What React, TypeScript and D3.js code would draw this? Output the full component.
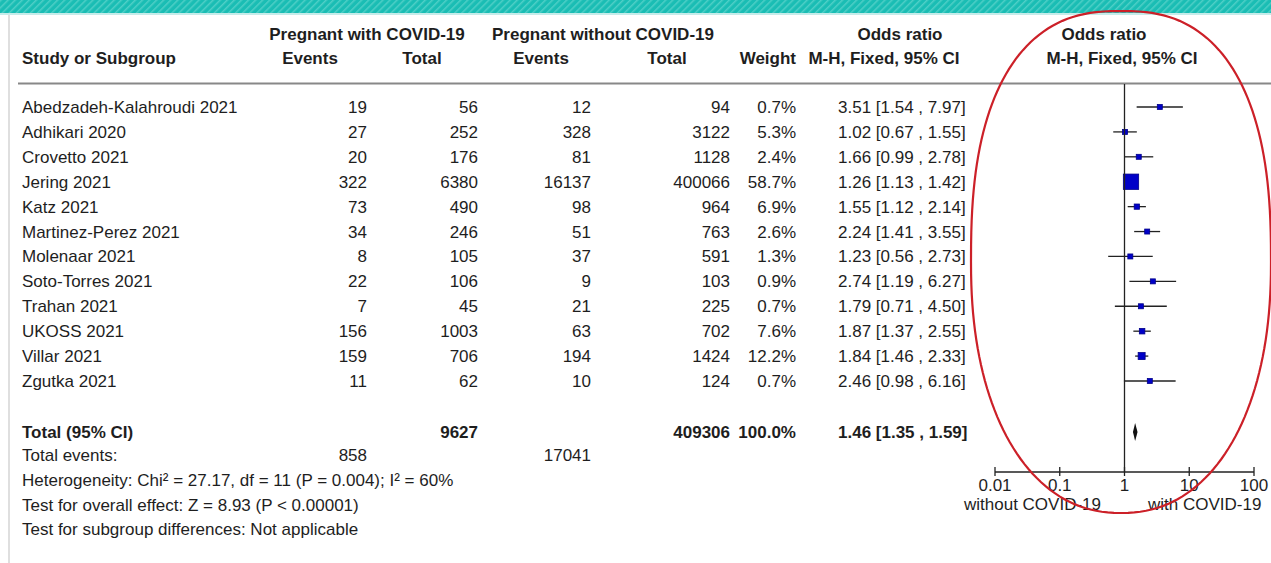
import React from "react";
import * as d3 from "d3";

const studies = [
  "Abedzadeh-Kalahroudi 2021",
  "Adhikari 2020",
  "Crovetto 2021",
  "Jering 2021",
  "Katz 2021",
  "Martinez-Perez 2021",
  "Molenaar 2021",
  "Soto-Torres 2021",
  "Trahan 2021",
  "UKOSS 2021",
  "Villar 2021",
  "Zgutka 2021",
];
const eventsWith = [19, 27, 20, 322, 73, 34, 8, 22, 7, 156, 159, 11];
const totalWith = [56, 252, 176, 6380, 490, 246, 105, 106, 45, 1003, 706, 62];
const eventsWithout = [12, 328, 81, 16137, 98, 51, 37, 9, 21, 63, 194, 10];
const totalWithout = [94, 3122, 1128, 400066, 964, 763, 591, 103, 225, 702, 1424, 124];
const weights = [0.7, 5.3, 2.4, 58.7, 6.9, 2.6, 1.3, 0.9, 0.7, 7.6, 12.2, 0.7];
const oddsRatio = [3.51, 1.02, 1.66, 1.26, 1.55, 2.24, 1.23, 2.74, 1.79, 1.87, 1.84, 2.46];
const ciLower = [1.54, 0.67, 0.99, 1.13, 1.12, 1.41, 0.56, 1.19, 0.71, 1.37, 1.46, 0.98];
const ciUpper = [7.97, 1.55, 2.78, 1.42, 2.14, 3.55, 2.73, 6.27, 4.5, 2.55, 2.33, 6.16];

const totalSummary = { totalWith: 9627, totalWithout: 409306, weight: "100.0%", or: 1.46, lo: 1.35, hi: 1.59 };
const totalEvents = [858, 17041];
const axisTicks = [0.01, 0.1, 1, 10, 100];
const axisTickLabels = ["0.01", "0.1", "1", "10", "100"];
const footLines = [
  "Heterogeneity: Chi² = 27.17, df = 11 (P = 0.004); I² = 60%",
  "Test for overall effect: Z = 8.93 (P < 0.00001)",
  "Test for subgroup differences: Not applicable",
];

const W = 1271;
const H = 563;
const FONT = "'Liberation Sans', Arial, Helvetica, sans-serif";
const FS = 17;
const TXT = "#1e1e1e";

export default function App() {
  const x = d3.scaleLog().domain([0.01, 100]).range([995, 1254]);
  const y = d3.scaleLinear().domain([0, 11]).range([107, 381]);
  const f2 = d3.format(".2f");
  const orText = (o: number, l: number, h: number) => `${f2(o)} [${f2(l)} , ${f2(h)}]`;

  const colEv1 = 367;
  const colTot1 = 478;
  const colEv2 = 591;
  const colTot2 = 730;
  const colW = 796;
  const colOR = 838;

  const totalY = 432;
  const axisY = 472;

  // hand-drawn-like ellipse
  const cx = 1121, cy = 262, rx = 150, ry = 251;
  const pts: [number, number][] = d3.range(0, 361, 2).map((deg) => {
    const t = (deg * Math.PI) / 180;
    const c = Math.cos(t), s = Math.sin(t);
    const n = s < 0 ? 2.5 : 2.2;
    const px = rx * Math.sign(c) * Math.pow(Math.abs(c), 2 / n);
    const py = ry * Math.sign(s) * Math.pow(Math.abs(s), 2 / n);
    return [cx + px, cy + py];
  });
  const ellipsePath = d3.line().curve(d3.curveLinearClosed)(pts) || "";

  const diamond = `M${x(totalSummary.lo)},${totalY} L${x(totalSummary.or)},${totalY - 9} L${x(totalSummary.hi)},${totalY} L${x(totalSummary.or)},${totalY + 9} Z`;

  const t = (props: any, content: any, key?: any) => (
    <text key={key} fontFamily={FONT} fontSize={FS} fill={TXT} {...props}>
      {content}
    </text>
  );

  return (
    <svg width={W} height={H} style={{ position: "absolute", left: 0, top: 0, background: "#fff" }}>
      <defs>
        <pattern id="stripes" width="5" height="5" patternUnits="userSpaceOnUse" patternTransform="rotate(45)">
          <rect width="5" height="5" fill="#1abdb4" />
          <rect width="1.5" height="5" fill="#4fcfc7" />
        </pattern>
      </defs>
      <rect x={0} y={0} width={W} height={H} fill="#fff" />
      <rect x={0} y={0} width={W} height={13} fill="url(#stripes)" />
      <rect x={0} y={13} width={W} height={2} fill="#c6ecea" />
      <line x1={9} x2={9} y1={15} y2={H} stroke="#d4d4d4" strokeWidth={1.5} />

      {/* headers */}
      <g fontWeight="bold">
        {t({ x: 22, y: 64, fontWeight: "bold" }, "Study or Subgroup")}
        {t({ x: 367, y: 40, textAnchor: "middle", fontWeight: "bold" }, "Pregnant with COVID-19")}
        {t({ x: 603, y: 40, textAnchor: "middle", fontWeight: "bold" }, "Pregnant without COVID-19")}
        {t({ x: 310, y: 64, textAnchor: "middle", fontWeight: "bold" }, "Events")}
        {t({ x: 422, y: 64, textAnchor: "middle", fontWeight: "bold" }, "Total")}
        {t({ x: 541, y: 64, textAnchor: "middle", fontWeight: "bold" }, "Events")}
        {t({ x: 667, y: 64, textAnchor: "middle", fontWeight: "bold" }, "Total")}
        {t({ x: colW, y: 64, textAnchor: "end", fontWeight: "bold" }, "Weight")}
        {t({ x: 900, y: 40, textAnchor: "middle", fontWeight: "bold" }, "Odds ratio")}
        {t({ x: 884, y: 64, textAnchor: "middle", fontWeight: "bold" }, "M-H, Fixed, 95% CI")}
        {t({ x: 1104, y: 40, textAnchor: "middle", fontWeight: "bold" }, "Odds ratio")}
        {t({ x: 1122, y: 64, textAnchor: "middle", fontWeight: "bold" }, "M-H, Fixed, 95% CI")}
      </g>
      <line x1={18} x2={W} y1={83.5} y2={83.5} stroke="#888" strokeWidth={2} />

      {/* rows */}
      {studies.map((s, i) => {
        const yy = y(i);
        const by = yy + 6;
        const side = Math.max(5, 2 * Math.sqrt(weights[i]));
        return (
          <g key={s}>
            {t({ x: 22, y: by }, s)}
            {t({ x: colEv1, y: by, textAnchor: "end" }, eventsWith[i])}
            {t({ x: colTot1, y: by, textAnchor: "end" }, totalWith[i])}
            {t({ x: colEv2, y: by, textAnchor: "end" }, eventsWithout[i])}
            {t({ x: colTot2, y: by, textAnchor: "end" }, totalWithout[i])}
            {t({ x: colW, y: by, textAnchor: "end" }, `${weights[i].toFixed(1)}%`)}
            {t({ x: colOR, y: by }, orText(oddsRatio[i], ciLower[i], ciUpper[i]))}
            <line x1={x(ciLower[i])} x2={x(ciUpper[i])} y1={yy} y2={yy} stroke="#222" strokeWidth={1.3} />
            <rect
              x={x(oddsRatio[i]) - side / 2}
              y={yy - side / 2}
              width={side}
              height={side}
              fill="#0000c8"
              stroke="#00008a"
              strokeWidth={0.8}
            />
          </g>
        );
      })}

      {/* totals */}
      {t({ x: 22, y: totalY + 6, fontWeight: "bold" }, "Total (95% CI)")}
      {t({ x: colTot1, y: totalY + 6, textAnchor: "end", fontWeight: "bold" }, totalSummary.totalWith)}
      {t({ x: colTot2, y: totalY + 6, textAnchor: "end", fontWeight: "bold" }, totalSummary.totalWithout)}
      {t({ x: colW, y: totalY + 6, textAnchor: "end", fontWeight: "bold" }, totalSummary.weight)}
      {t({ x: colOR, y: totalY + 6, fontWeight: "bold" }, orText(totalSummary.or, totalSummary.lo, totalSummary.hi))}
      <path d={diamond} fill="#111" />

      {t({ x: 22, y: 461 }, "Total events:")}
      {t({ x: colEv1, y: 461, textAnchor: "end" }, totalEvents[0])}
      {t({ x: colEv2, y: 461, textAnchor: "end" }, totalEvents[1])}
      {footLines.map((l, i) => t({ x: 22, y: 486 + i * 24.5 }, l, l))}

      {/* forest axis */}
      <line x1={x(1)} x2={x(1)} y1={84} y2={axisY} stroke="#222" strokeWidth={1.3} />
      <line x1={x(0.01)} x2={x(100)} y1={axisY} y2={axisY} stroke="#222" strokeWidth={1.3} />
      {axisTicks.map((v, i) => (
        <g key={v}>
          <line x1={x(v)} x2={x(v)} y1={axisY - 5} y2={axisY + 4} stroke="#222" strokeWidth={1.3} />
          {t({ x: x(v), y: 491, textAnchor: "middle" }, axisTickLabels[i])}
        </g>
      ))}
      {t({ x: 1101, y: 510, textAnchor: "end" }, "without COVID-19")}
      {t({ x: 1148, y: 510 }, "with COVID-19")}

      <path d={ellipsePath} fill="none" stroke="#cc2028" strokeWidth={2.2} />
    </svg>
  );
}
